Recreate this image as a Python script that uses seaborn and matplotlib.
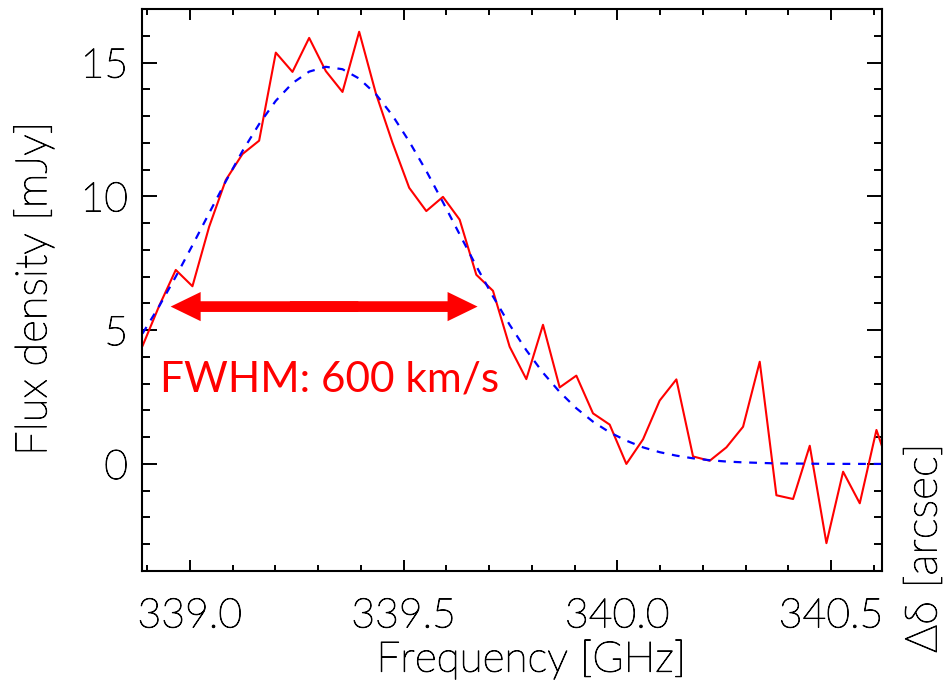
import matplotlib
matplotlib.use("Agg")
import matplotlib.pyplot as plt
import matplotlib.patheffects as pe
import seaborn as sns
import numpy as np
import pandas as pd
from matplotlib.ticker import MultipleLocator, FormatStrFormatter

# ---------------- data ----------------
freq_ghz = [338.889, 338.928, 338.967, 339.006, 339.045, 339.084, 339.123, 339.162,
            339.201, 339.240, 339.279, 339.318, 339.357, 339.396, 339.435, 339.474,
            339.513, 339.553, 339.592, 339.631, 339.670, 339.709, 339.748, 339.787,
            339.826, 339.865, 339.904, 339.943, 339.982, 340.021, 340.060, 340.099,
            340.138, 340.177, 340.216, 340.255, 340.294, 340.333, 340.372, 340.411,
            340.450, 340.489, 340.528, 340.567, 340.606, 340.645]

flux_mjy = [4.40, 5.90, 7.25, 6.64, 8.86, 10.61, 11.58, 12.08,
            15.37, 14.65, 15.92, 14.68, 13.90, 16.15, 13.85, 12.00,
            10.32, 9.45, 9.98, 9.13, 7.07, 6.47, 4.38, 3.17,
            5.20, 2.86, 3.30, 1.89, 1.47, 0.00, 0.92, 2.37,
            3.16, 0.28, 0.12, 0.62, 1.39, 3.82, -1.17, -1.31,
            0.68, -2.96, -0.29, -1.47, 1.27, -0.55]

fit_mjy = [4.87, 5.89, 7.00, 8.17, 9.37, 10.56, 11.69, 12.70,
           13.57, 14.23, 14.66, 14.84, 14.75, 14.40, 13.82, 13.02,
           12.05, 10.95, 9.78, 8.58, 7.39, 6.26, 5.20, 4.25,
           3.41, 2.69, 2.08, 1.58, 1.18, 0.87, 0.62, 0.44,
           0.31, 0.21, 0.14, 0.09, 0.06, 0.04, 0.02, 0.015,
           0.01, 0.005, 0.003, 0.002, 0.001, 0.0]

x_major_ticks = [339.0, 339.5, 340.0, 340.5]
y_major_ticks = [0, 5, 10, 15]

fwhm_label = "FWHM: 600 km/s"
fwhm_left, fwhm_right, fwhm_level = 338.955, 339.673, 5.88

df = pd.DataFrame({"freq": freq_ghz, "flux": flux_mjy, "fit": fit_mjy})

# ---------------- style ----------------
sns.set_style("ticks")
plt.rcParams["font.family"] = ["Lato", "DejaVu Sans"]
plt.rcParams["axes.linewidth"] = 1.5
for key in ["text.color", "axes.labelcolor", "xtick.color", "ytick.color",
            "axes.edgecolor", "xtick.labelcolor", "ytick.labelcolor"]:
    plt.rcParams[key] = "black"

LABEL_WEIGHT = "light"
THICKEN = [pe.withStroke(linewidth=0.7, foreground="black")]

fig = plt.figure(figsize=(9.48, 6.91), dpi=100)
ax = fig.add_axes([142 / 948, 120 / 691, 740 / 948, 562 / 691])

sns.lineplot(data=df, x="freq", y="flux", color="#ff0000", lw=1.5, ax=ax)
sns.lineplot(data=df, x="freq", y="fit", color="#0000ff", lw=1.6,
             linestyle=(0, (3.5, 3.5)), ax=ax)

ax.set_xlim(338.888, 340.619)
ax.set_ylim(-4, 17)

ax.xaxis.set_major_locator(plt.FixedLocator(x_major_ticks))
ax.xaxis.set_minor_locator(MultipleLocator(0.1))
ax.xaxis.set_major_formatter(FormatStrFormatter("%.1f"))
ax.yaxis.set_major_locator(plt.FixedLocator(y_major_ticks))
ax.yaxis.set_minor_locator(MultipleLocator(1))

for sp in ax.spines.values():
    sp.set_visible(True)
    sp.set_color("black")
    sp.set_linewidth(1.5)

ax.tick_params(which="both", direction="in", top=True, right=True,
               labeltop=False, labelright=False, color="black", width=1.4)
ax.tick_params(axis="x", which="major", length=8, pad=19)
ax.tick_params(axis="x", which="minor", length=4)
ax.tick_params(axis="y", which="major", length=11, pad=10)
ax.tick_params(axis="y", which="minor", length=5.5)
for lab in ax.get_xticklabels() + ax.get_yticklabels():
    lab.set_fontsize(29.5)
    lab.set_fontweight(LABEL_WEIGHT)
    lab.set_color("black")
    lab.set_path_effects(THICKEN)

ax.set_xlabel("Frequency [GHz]", fontsize=30.5, fontweight=LABEL_WEIGHT, color="black")
ax.set_ylabel("Flux density [mJy]", fontsize=31.5, fontweight=LABEL_WEIGHT, color="black")
ax.xaxis.label.set_path_effects(THICKEN)
ax.yaxis.label.set_path_effects(THICKEN)
ax.xaxis.label.set_va("center")
ax.xaxis.set_label_coords(0.526, -0.158)
ax.yaxis.label.set_va("center")
ax.yaxis.set_label_coords(-0.146, 0.502)

fig.text(925 / 948, 1 - 548 / 691, "\u0394\u03b4 [arcsec]", rotation=90,
         ha="center", va="center", fontsize=32, fontweight=LABEL_WEIGHT,
         color="black", family=["Lato", "DejaVu Sans"], path_effects=THICKEN)

# FWHM double arrow (two overlapping single-headed arrows)
arrow_kw = dict(arrowstyle="simple,head_length=2.16,head_width=2.1,tail_width=0.77",
                color="#ff0000", lw=0, shrinkA=0, shrinkB=0, mutation_scale=10)
mid = 0.5 * (fwhm_left + fwhm_right)
overlap = 0.08
ax.annotate("", xy=(fwhm_left, fwhm_level), xytext=(mid + overlap, fwhm_level),
            arrowprops=arrow_kw)
ax.annotate("", xy=(fwhm_right, fwhm_level), xytext=(mid - overlap, fwhm_level),
            arrowprops=arrow_kw)

ax.text(338.930, 2.69, fwhm_label, color="#ff0000", fontsize=30.5,
        ha="left", va="baseline")

fig.savefig("out.png", dpi=100)
